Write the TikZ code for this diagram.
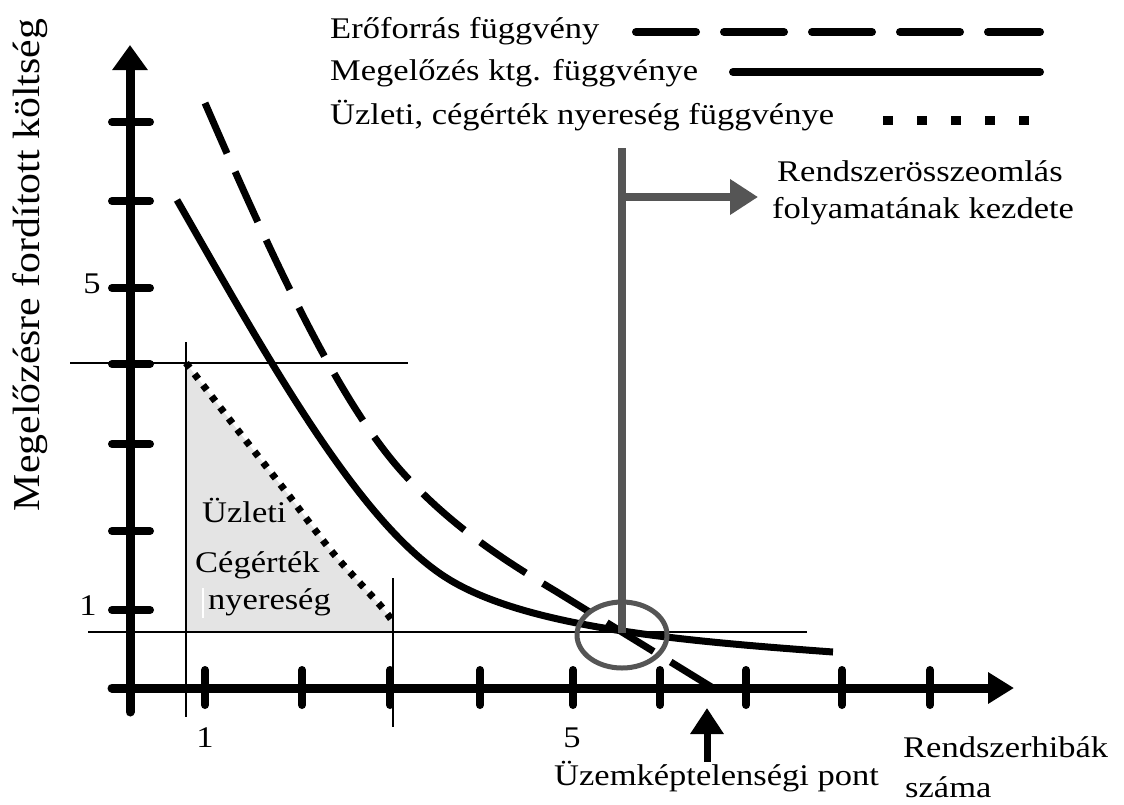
\documentclass[tikz,border=0pt]{standalone}
\usepackage{fontspec}
\setmainfont{Liberation Serif}
\usepackage{graphicx}
\usetikzlibrary{arrows.meta,shapes.geometric}
\definecolor{markgray}{HTML}{555555}
\definecolor{areagray}{HTML}{E4E4E4}
% horizontally widened text
\newcommand\wtxt[1]{\scalebox{1.15}[1]{#1}}
\begin{document}
\begin{tikzpicture}[x=1pt,y=-1pt,
  lbl/.style={font=\fontsize{30}{34}\selectfont, inner sep=0pt, anchor=base west},
  num/.style={font=\fontsize{30}{34}\selectfont, inner sep=0pt},
  axisline/.style={line width=9pt, line cap=round},
  tickmark/.style={line width=8pt, line cap=round},
  guide/.style={line width=1.3pt},
  costcurve/.style={line width=7pt},
  rescurve/.style={line width=7pt, dash pattern=on 55pt off 20pt},
  gaincurve/.style={line width=7pt, dash pattern=on 6pt off 8pt},
  legdash/.style={line width=8pt, line cap=round, dash pattern=on 60pt off 28pt},
  legsolid/.style={line width=8pt, line cap=round},
  legdot/.style={line width=9pt, dash pattern=on 10pt off 24pt},
  grayline/.style={draw=markgray, line width=8pt},
]
\useasboundingbox (0,0) rectangle (1124,804);

% shaded gain area
\fill[areagray] plot[smooth] coordinates {(186,363) (240,433) (287,493) (333,553) (380,605) (393,622)}
  -- (393,632) -- (186,632) -- cycle;
\draw[white, line width=1.2pt] (203,588) -- (203,618);

% thin guide lines
\coordinate (h1a) at (70,363);  \coordinate (h1b) at (408,363);
\coordinate (h2a) at (88,632);  \coordinate (h2b) at (807,632);
\coordinate (v1a) at (186,342); \coordinate (v1b) at (186,717);
\coordinate (v2a) at (393,578); \coordinate (v2b) at (393,727);
\draw[guide] (h1a) -- (h1b);
\draw[guide] (h2a) -- (h2b);
\draw[guide] (v1a) -- (v1b);
\draw[guide] (v2a) -- (v2b);

% curves
\draw[costcurve] (177,200) .. controls (267,357) and (360,526) .. (450,580)
  .. controls (530,628) and (683,641) .. (833,652);
\draw[rescurve] (205,103) .. controls (271,255) and (337,400) .. (403,473)
  .. controls (453,528) and (507,562) .. (557,592) -- (713,688);
\draw[gaincurve] plot[smooth] coordinates {(186,363) (240,433) (287,493) (333,553) (380,605) (393,622)};

% axes
\coordinate (ybot) at (130,712); \coordinate (ytop) at (130,45);
\coordinate (xleft) at (112,688); \coordinate (xright) at (1014,688);
\draw[axisline, -{Triangle[length=25pt,width=34pt]}] (ybot) -- (ytop);
\draw[axisline, -{Triangle[length=26pt,width=30pt]}] (xleft) -- (xright);
\foreach \ty in {122,201,288,364,444,531,610}
  \draw[tickmark] (112,\ty) -- (150,\ty);
\foreach \tx in {205,302,390,480,573,660,746,842,930}
  \draw[tickmark] (\tx,670) -- (\tx,705);

% axis numbers
\node[num] (y5) at (92,284) {\wtxt{5}};
\node[num] (y1) at (88,606) {\wtxt{1}};
\node[num] (x1) at (205,738) {\wtxt{1}};
\node[num] (x5) at (572,738) {\wtxt{5}};

% axis titles
\node[font=\fontsize{38}{40}\selectfont, rotate=90, inner sep=0pt] (ylabel) at (30,265)
  {\scalebox{1.1}[1]{Megelőzésre fordított költség}};
\node[lbl] (xlab1) at (903,757) {\wtxt{Rendszerhibák}};
\node[lbl] (xlab2) at (905,797) {\wtxt{száma}};

% collapse marker
\coordinate (gtop) at (622,148); \coordinate (gbot) at (622,633);
\coordinate (gmid) at (622,197); \coordinate (gtip) at (758,197);
\draw[grayline] (gtop) -- (gbot);
\draw[grayline, -{Triangle[length=28pt,width=34pt]}] (gmid) -- (gtip);
\node[draw=markgray, line width=5pt, ellipse, minimum width=90pt, minimum height=66pt, inner sep=0pt] (crash) at (622,635) {};
\node[lbl] (collapse1) at (777,181) {\wtxt{Rendszerösszeomlás}};
\node[lbl] (collapse2) at (772,218) {\wtxt{folyamatának kezdete}};

% inoperability point
\coordinate (ptail) at (707,762); \coordinate (phead) at (707,708);
\draw[line width=7pt, -{Triangle[length=26pt,width=32pt]}] (ptail) -- (phead);
\node[lbl] (inop) at (554,785) {\wtxt{Üzemképtelenségi pont}};

% area labels
\node[lbl] (a1) at (202,522) {\wtxt{Üzleti}};
\node[lbl] (a2) at (195,572) {\wtxt{Cégérték}};
\node[lbl] (a3) at (208,609) {\wtxt{nyereség}};

% legend
\node[lbl] (leg1) at (330,38) {\wtxt{Erőforrás függvény}};
\node[lbl] (leg2) at (330,80) {\wtxt{Megelőzés ktg. függvénye}};
\node[lbl] (leg3) at (330,124) {\wtxt{Üzleti, cégérték nyereség függvénye}};
\coordinate (l1a) at (636,32);  \coordinate (l1b) at (1040,32);
\coordinate (l2a) at (733,72);  \coordinate (l2b) at (1040,72);
\coordinate (l3a) at (883,120); \coordinate (l3b) at (1035,120);
\draw[legdash] (l1a) -- (l1b);
\draw[legsolid] (l2a) -- (l2b);
\draw[legdot] (l3a) -- (l3b);
\end{tikzpicture}
\end{document}
